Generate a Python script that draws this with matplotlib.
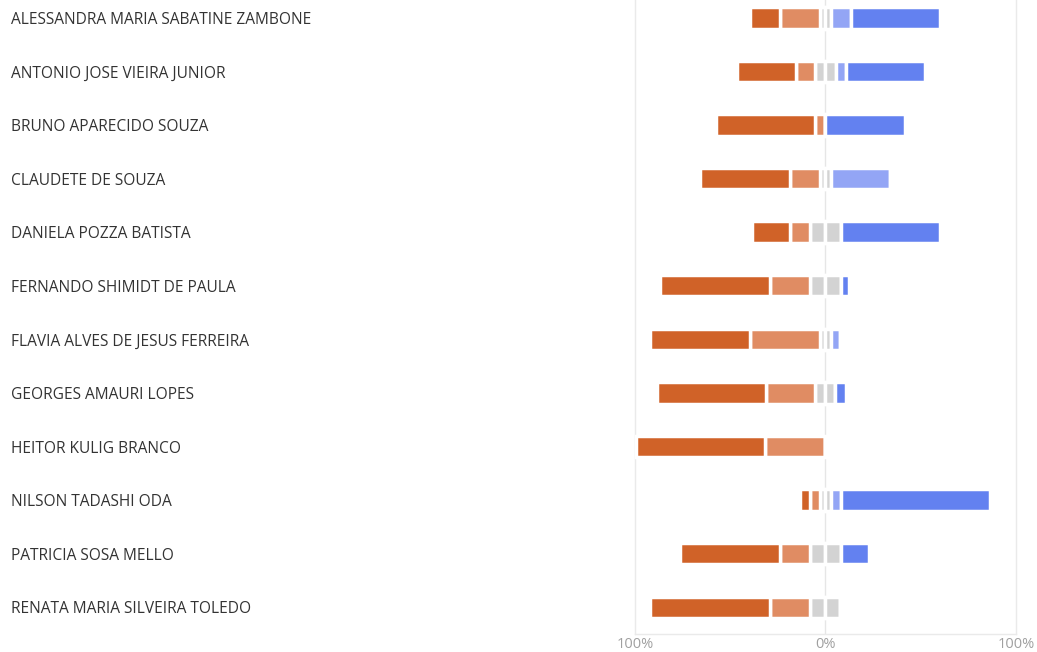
import matplotlib
matplotlib.use("Agg")
import matplotlib.pyplot as plt
import matplotlib.transforms as mtransforms
import numpy as np

names = [
    "ALESSANDRA MARIA SABATINE ZAMBONE",
    "ANTONIO JOSE VIEIRA JUNIOR",
    "BRUNO APARECIDO SOUZA",
    "CLAUDETE DE SOUZA",
    "DANIELA POZZA BATISTA",
    "FERNANDO SHIMIDT DE PAULA",
    "FLAVIA ALVES DE JESUS FERREIRA",
    "GEORGES AMAURI LOPES",
    "HEITOR KULIG BRANCO",
    "NILSON TADASHI ODA",
    "PATRICIA SOSA MELLO",
    "RENATA MARIA SILVEIRA TOLEDO",
]

# percentages per answer level
strong_neg = [15.6, 31.0, 51.7, 47.1, 20.4, 57.6, 52.4, 57.2, 68.1, 5.1, 52.3, 62.9]
neg        = [20.8, 10.1, 5.5, 15.6, 10.5, 21.1, 36.6, 25.9, 31.6, 5.1, 15.9, 21.1]
neutral    = [5.9, 10.8, 0.0, 5.8, 15.8, 15.8, 5.8, 10.5, 0.0, 5.8, 15.8, 15.7]
pos        = [10.4, 5.3, 0.0, 31.0, 0.0, 0.0, 4.5, 0.0, 0.0, 5.0, 0.0, 0.0]
strong_pos = [46.9, 41.5, 41.5, 0.0, 52.0, 4.7, 0.0, 5.5, 0.0, 78.7, 15.2, 0.0]

xticks = [-100, 0, 100]
xticklabels = ["100%", "0%", "100%"]

c_sneg = "#D06228"
c_neg = "#E08C63"
c_neu = "#D3D3D3"
c_pos = "#93A5F5"
c_spos = "#6381F0"

fig = plt.figure(figsize=(10.37, 6.52), dpi=100)
ax = fig.add_axes([0.6123, 0.0276, 0.3674, 0.9860])

y = np.arange(len(names))
sneg = np.array(strong_neg)
ng = np.array(neg)
neu = np.array(neutral)
ps = np.array(pos)
sps = np.array(strong_pos)

h = 0.40
kw = dict(height=h, edgecolor="white", linewidth=2.5, zorder=3)

# left side
ax.barh(y, -neu / 2, left=0, color=c_neu, **kw)
ax.barh(y, -ng, left=-neu / 2, color=c_neg, **kw)
ax.barh(y, -sneg, left=-neu / 2 - ng, color=c_sneg, **kw)
# right side
ax.barh(y, neu / 2, left=0, color=c_neu, **kw)
ax.barh(y, ps, left=neu / 2, color=c_pos, **kw)
ax.barh(y, sps, left=neu / 2 + ps, color=c_spos, **kw)

ax.axvline(0, color="#E6E6E6", lw=1, zorder=1)

ax.set_xlim(-100, 100)
ax.set_ylim(len(names) - 0.5, -0.5)
ax.set_xticks(xticks)
ax.set_xticklabels(xticklabels, color="#A0A0A0", fontsize=10.5, family="Open Sans")
ax.tick_params(axis="x", length=0, pad=2)
ax.set_yticks([])

for side in ["left", "right", "bottom"]:
    ax.spines[side].set_color("#EAEAEA")
    ax.spines[side].set_linewidth(1)
ax.spines["top"].set_visible(False)

trans = mtransforms.blended_transform_factory(fig.transFigure, ax.transData)
for i, name in enumerate(names):
    ax.text(11 / 1037, i, name, transform=trans, ha="left", va="center_baseline",
            fontsize=11.2, color="#333333", family="Open Sans", clip_on=False)

fig.savefig("out.png", dpi=100)
